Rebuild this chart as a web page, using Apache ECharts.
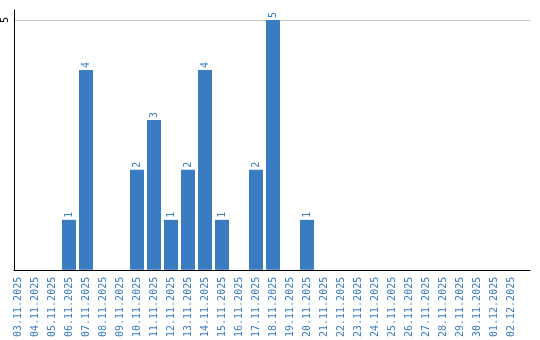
<!DOCTYPE html>
<html><head><meta charset="utf-8">
<script src="https://cdn.jsdelivr.net/npm/echarts@6/dist/echarts.min.js"></script>
<style>html,body{margin:0;padding:0;background:#fff}#c{width:540px;height:340px}</style>
</head><body><div id="c"></div>
<script>
const categories = ['03.11.2025','04.11.2025','05.11.2025','06.11.2025','07.11.2025','08.11.2025','09.11.2025','10.11.2025','11.11.2025','12.11.2025','13.11.2025','14.11.2025','15.11.2025','16.11.2025','17.11.2025','18.11.2025','19.11.2025','20.11.2025','21.11.2025','22.11.2025','23.11.2025','24.11.2025','25.11.2025','26.11.2025','27.11.2025','28.11.2025','29.11.2025','30.11.2025','01.12.2025','02.12.2025'];
const counts = [null,null,null,1,4,null,null,2,3,1,2,4,1,null,2,5,null,1,null,null,null,null,null,null,null,null,null,null,null,null];
const yTicks = [5];

const font = 'DejaVu Sans Mono';
const blue = '#3a7cc1';
const chart = echarts.init(document.getElementById('c'));
chart.setOption({
  animation: false,
  grid: [
    {left: 10, right: 10, top: 10, bottom: 70},
    {left: 9.5, width: 510, top: 10, bottom: 70}
  ],
  xAxis: [
    {gridIndex: 0, type: 'category', data: [''], axisLine: {lineStyle: {color: '#000', width: 1}}, axisTick: {show: false}, axisLabel: {show: false}},
    {gridIndex: 1, type: 'category', data: categories, axisLine: {show: false}, axisTick: {show: false},
     axisLabel: {rotate: 90, interval: 0, color: blue, fontFamily: font, fontSize: 10, margin: 7}}
  ],
  yAxis: [
    {gridIndex: 0, type: 'value', min: 0, max: 5.2, interval: 5,
     axisLine: {show: true, lineStyle: {color: '#000', width: 1}}, axisTick: {show: false},
     splitLine: {show: true, lineStyle: {color: ['rgba(0,0,0,0)', '#c8c8c8', 'rgba(0,0,0,0)'], width: 1}},
     axisLabel: {rotate: 90, margin: 4, color: '#000', fontFamily: font, fontSize: 10,
       formatter: v => yTicks.includes(v) ? String(v) : ''}},
    {gridIndex: 1, type: 'value', min: 0, max: 5.2, show: false}
  ],
  series: [{
    type: 'bar', xAxisIndex: 1, yAxisIndex: 1, data: counts, barWidth: 14,
    itemStyle: {color: blue},
    label: {show: true, position: 'top', rotate: 90, align: 'left', verticalAlign: 'middle', distance: 2,
      color: blue, fontFamily: font, fontSize: 10}
  }]
});
</script></body></html>
